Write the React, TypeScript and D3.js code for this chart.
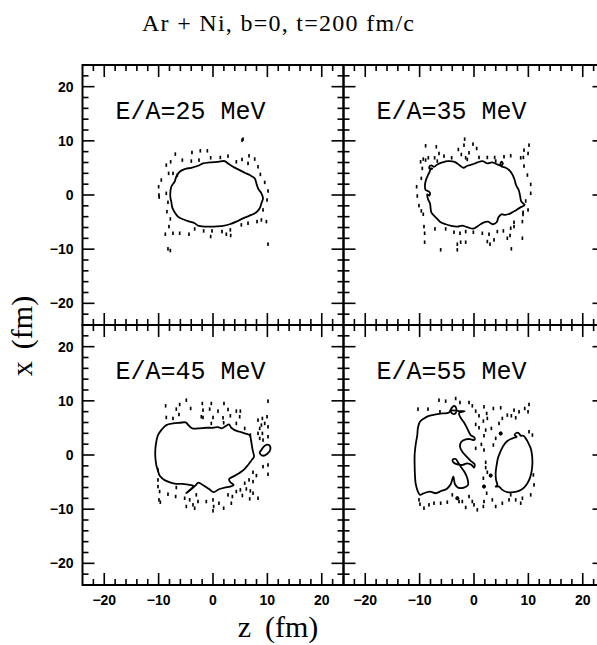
import React from "react";
import * as d3 from "d3";

// ---- data (z, x) in fm ----
const title = "Ar + Ni, b=0, t=200 fm/c";
const panelLabels = ["E/A=25 MeV", "E/A=35 MeV", "E/A=45 MeV", "E/A=55 MeV"];
const majorTicks = [-20, -10, 0, 10, 20];
const tickLabels = ["\u221220", "\u221210", "0", "10", "20"];

const contour25: [number, number][] = [
  [-7.85, -0.31], [-7.67, 1.53], [-7.06, 2.45], [-6.75, 3.37], [-6.13, 4.29], [-5.21, 4.79], [-3.99, 5.03],
  [-2.76, 5.4], [-1.84, 5.83], [-0.61, 6.01], [0.92, 6.13], [2.15, 6.26], [2.76, 5.83], [3.68, 5.21],
  [4.91, 4.6], [5.83, 4.11], [6.75, 3.68], [7.67, 3.07], [7.98, 2.15], [8.28, 1.23], [8.9, 0.31],
  [9.2, -0.61], [8.9, -1.53], [8.59, -2.45], [7.98, -3.19], [7.06, -3.68], [5.83, -4.17], [4.29, -4.91],
  [3.07, -5.4], [1.84, -5.71], [0, -5.83], [-1.53, -5.83], [-2.76, -5.64], [-3.37, -5.21], [-4.29, -4.91],
  [-5.52, -4.48], [-6.44, -3.99], [-7.06, -3.19], [-7.48, -2.33], [-7.67, -1.23],
];
const dots25: [number, number][] = [
  [5.34, 10.12], [5.52, 10.31], [-6.93, 7.55], [-3.87, 7.85], [-2.33, 8.16], [-1.04, 8.16], [-7.79, 6.13],
  [-8.59, 5.52], [-5.64, 6.44], [-3.99, 6.26], [-2.58, 6.44], [-0.43, 6.87], [1.35, 6.93], [2.76, 7.18],
  [4.29, 6.13], [5.34, 6.56], [6.63, 7.24], [7.67, 6.63], [6.44, 5.83], [8.28, 5.21], [-8.16, 3.99],
  [-7.36, 3.99], [-6.56, 3.68], [8.71, 3.8], [-9.51, 2.76], [9.51, 2.33], [-10.0, 1.53], [-8.59, 0.31],
  [-9.94, 0], [-9.9, -0.4], [10.12, 0.74], [9.94, -0.92], [-8.28, -1.35], [-8.47, -3.07], [9.2, -2.76],
  [-7.85, -4.42], [-8.1, -5.83], [8.9, -4.6], [9.82, -4.91], [8.1, -4.91], [6.44, -5.21], [5.21, -5.52],
  [-8.77, -7.24], [-7.36, -7.06], [-6.13, -7.06], [-4.42, -7.24], [-3.37, -6.26], [-1.72, -6.63],
  [-0.18, -6.63], [-0.43, -7.67], [1.66, -6.75], [2.45, -7.24], [3.19, -6.44], [3.25, -7.48],
  [-8.28, -9.94], [-7.85, -10.25], [10.12, -9.08],
];

const contour35: [number, number][] = [
  [-7.98, 4.91], [-8.1, 4.42], [-8.47, 3.68], [-8.83, 2.76], [-9.02, 1.84], [-8.9, 0.92], [-8.47, 0.74],
  [-8.1, 0.43], [-8.22, -0.12], [-8.59, 0.12], [-8.47, -0.74], [-8.1, -1.53], [-7.98, -2.45], [-7.85, -3.19],
  [-7.36, -3.8], [-6.75, -4.42], [-6.13, -5.03], [-5.21, -5.4], [-4.17, -5.71], [-3.07, -5.83], [-2.15, -5.64],
  [-1.23, -5.95], [-0.12, -6.2], [0.74, -5.71], [1.72, -5.09], [2.58, -4.91], [3.37, -5.4], [4.17, -5.03],
  [4.48, -4.17], [5.03, -3.56], [5.71, -3.68], [6.63, -3.44], [7.48, -2.94], [8.47, -2.33], [9.33, -1.84],
  [8.71, -1.23], [8.47, -0.12], [8.22, 0.92], [7.73, 1.84], [7.48, 2.76], [7.12, 3.68], [6.63, 4.42],
  [5.83, 5.03], [5.03, 5.28], [4.85, 5.7], [5.05, 6.15], [5.3, 5.8], [4.9, 5.4], [4.29, 5.64], [3.37, 6.01],
  [2.45, 5.83], [1.6, 6.26], [0.61, 6.01], [-0.31, 5.64], [-1.23, 5.4], [-1.96, 5.03], [-2.7, 5.52],
  [-3.56, 6.13], [-4.79, 6.26], [-5.83, 6.01], [-6.75, 5.64], [-7.36, 5.21], [-7.85, 5.46], [-8.22, 5.21],
  [-8.1, 4.79], [-7.67, 4.85],
];
const dots35: [number, number][] = [
  [-1.72, 10.31], [-0.18, 9.39], [-1.84, 9.2], [-2.88, 8.4], [0.49, 8.59], [-2.33, 7.48], [-0.92, 7.79],
  [-8.9, 9.08], [-6.93, 8.9], [9.2, 8.28], [10.12, 9.2], [9.94, 7.67], [8.59, 6.87], [9.08, 6.93],
  [-6.44, 7.67], [-5.52, 7.18], [-9.82, 6.13], [-9.33, 6.63], [-8.9, 6.44], [-8.4, 6.87], [-7.24, 6.87],
  [-6.75, 6.26], [-4.11, 6.87], [-1.53, 6.87], [-1.23, 6.56], [0.92, 6.93], [2.45, 6.93], [3.8, 6.93],
  [3.99, 6.26], [5.52, 7.06], [6.75, 7.24], [9.2, 5.34], [-9.51, 4.91], [-9.69, 3.07], [9.82, 3.68],
  [-10.55, 1.53], [10.43, 1.96], [-10.43, -0.18], [10.43, 0.31], [-10.12, -1.96], [-9.69, -2.94],
  [-9.33, -3.56], [9.51, -1.1], [9.94, -2.76], [9.02, -3.19], [9.02, -3.6], [8.9, -4.91], [7.36, -5.03],
  [-9.2, -5.83], [-9.08, -7.06], [-7.18, -6.26], [-5.21, -6.26], [-3.68, -6.87], [-2.58, -7.06],
  [-1.53, -6.75], [-0.12, -6.87], [1.53, -7.06], [2.76, -7.24], [4.29, -6.75], [5.4, -6.63], [6.75, -6.13],
  [7.36, -5.83], [-9.08, -8.71], [-6.13, -10.12], [-3.07, -9.08], [-2.45, -8.71], [-3.07, -10.12],
  [-1.53, -8.71], [2.45, -8.59], [2.94, -9.08], [3.68, -8.28], [6.13, -7.98], [6.63, -7.48], [8.9, -7.98],
  [6.87, -9.94],
];

const contour45: [number, number][] = [
  [-8.59, 5.52], [-7.36, 5.83], [-6.13, 5.95], [-5.03, 6.01], [-4.42, 5.4], [-3.8, 4.91], [-2.76, 4.91],
  [-1.23, 5.03], [0, 5.03], [0.92, 5.15], [1.53, 4.91], [1.96, 5.09], [2.45, 5.4], [2.94, 5.64], [3.37, 5.03],
  [3.99, 4.6], [4.91, 4.29], [5.83, 3.99], [6.75, 3.68], [6.99, 2.76], [7.18, 1.53], [7.36, 0.61],
  [7.55, -0.31], [7.12, -0.92], [6.44, -1.84], [5.64, -2.76], [4.79, -3.37], [3.68, -3.99], [2.94, -4.48],
  [3.19, -5.03], [3.8, -5.52], [3.19, -5.83], [2.15, -6.01], [1.1, -6.32], [0.12, -6.87], [-0.74, -6.26],
  [-1.72, -5.64], [-2.7, -5.09], [-3.2, -5.6], [-4.91, -7.06], [-3.6, -5.7], [-4.29, -5.52], [-5.64, -5.34],
  [-7.06, -5.28], [-8.28, -4.91], [-9.2, -4.42], [-9.82, -3.8], [-10.12, -2.94], [-10.43, -1.84],
  [-10.61, -0.31], [-10.61, 0.92], [-10.43, 2.45], [-10.12, 3.68], [-9.51, 4.6],
];
const contour45b: [number, number][] = [
  [8.9, 0.92], [9.51, 1.72], [10.31, 1.84], [10.55, 1.04], [9.94, 0.18], [9.08, -0.12], [8.59, 0.43],
];
const dots45: [number, number][] = [
  [-4.91, 10.12], [10.12, 9.94], [-8.71, 9.08], [-6.13, 9.33], [-1.96, 9.51], [-0.31, 9.51], [2.02, 9.51],
  [-6.75, 8.47], [-4.11, 8.59], [-1.84, 8.28], [-0.61, 8.47], [0.92, 8.1], [2.76, 8.4], [4.29, 8.1],
  [5.03, 8.1], [-8.59, 6.93], [-7.36, 6.75], [-6.26, 7.48], [-2.15, 7.06], [-1.84, 6.93], [0, 6.93],
  [1.84, 6.87], [3.19, 7.24], [4.91, 7.06], [8.28, 6.44], [9.08, 6.75], [9.94, 7.06], [8.9, 5.52],
  [9.51, 5.83], [8.59, 4.91], [10.12, 5.21], [-0.31, 5.83], [1.96, 5.95], [4.29, 5.83], [5.83, 4.91],
  [8.28, 3.99], [9.08, 3.99], [10.12, 3.37], [6.87, 3.68], [9.2, 2.76], [8.59, 3.07], [-10.12, -2.76],
  [-10.12, -4.6], [9.2, -2.15], [10.12, -1.84], [10.12, -3.56], [7.36, -3.19], [7.98, -3.8], [6.63, -4.6],
  [7.36, -4.91], [5.83, -5.21], [6.13, -6.26], [-10.12, -5.83], [-9.82, -6.75], [-9.94, -8.28],
  [-9.69, -8.71], [-8.28, -7.24], [-6.75, -6.01], [-6.87, -7.67], [-5.21, -7.98], [-3.07, -7.36],
  [-4.29, -8.28], [-3.68, -9.2], [-4.91, -9.51], [-2.76, -8.59], [-1.23, -8.59], [0, -8.28], [0.12, -9.51],
  [1.1, -8.9], [1.96, -9.82], [2.76, -7.36], [3.56, -7.67], [4.29, -6.75], [5.03, -6.44], [5.4, -7.48],
  [3.37, -8.9], [6.87, -6.63], [7.36, -7.06], [8.28, -7.98], [6.75, -8.1], [-3.37, -9.82], [0, -10.31],
];

const contour55a: [number, number][] = [
  [-10.31, 5.03], [-9.94, 6.13], [-9.2, 6.75], [-8.28, 7.24], [-7.06, 7.48], [-5.83, 7.67], [-4.6, 7.85],
  [-4.17, 8.59], [-3.68, 9.08], [-3.25, 8.59], [-3.37, 7.73], [-3.93, 7.61], [-4.29, 8.22], [-2.76, 8.1],
  [-1.72, 8.1], [-2.76, 7.73], [-2.45, 6.87], [-1.72, 5.83], [-1.1, 4.6], [-0.61, 3.68], [0.12, 3.19],
  [0.0, 2.76], [-0.74, 2.94], [-1.53, 2.88], [-2.33, 2.45], [-2.58, 1.53], [-2.15, 0.61], [-1.35, -0.31],
  [-0.61, -1.1], [0.12, -1.72], [0.0, -2.33], [-0.43, -1.84], [-1.23, -1.53], [-2.15, -1.84], [-3.07, -1.72],
  [-3.8, -1.35], [-3.93, -0.86], [-3.37, -0.74], [-2.94, -1.35], [-2.33, -2.33], [-1.72, -3.19],
  [-1.23, -4.29], [-1.1, -5.52], [-1.84, -6.01], [-2.94, -6.01], [-3.5, -5.4], [-3.8, -3.99], [-4.29, -5.4],
  [-5.03, -6.26], [-6.01, -6.63], [-7.06, -7.06], [-8.1, -6.75], [-9.2, -7.06], [-9.94, -7.36],
  [-10.43, -6.44], [-10.74, -5.21], [-10.86, -3.68], [-10.92, -1.84], [-10.92, 0], [-10.74, 1.84],
  [-10.43, 3.68],
];
const contour55b: [number, number][] = [
  [7.85, 3.37], [7.06, 3.07], [6.13, 2.58], [5.4, 1.72], [4.91, 0.74], [4.42, -0.49], [4.17, -1.84],
  [3.99, -3.19], [4.05, -4.6], [4.29, -5.52], [3.99, -5.83], [4.6, -5.83], [5.21, -6.44], [6.13, -6.87],
  [7.24, -6.87], [8.28, -6.63], [9.2, -6.01], [9.82, -5.21], [10.31, -4.17], [10.61, -2.94], [10.74, -1.53],
  [10.67, 0], [10.43, 1.23], [9.94, 2.33], [9.51, 3.07], [9.08, 3.56], [8.59, 3.56], [8.28, 3.99],
  [7.85, 4.11], [7.48, 3.68],
];
const dots55: [number, number][] = [
  [-6.44, 10.12], [-5.21, 9.94], [-3.37, 10.43], [-2.58, 9.69], [-0.92, 9.69], [-10.31, 8.47],
  [-8.47, 8.47], [-6.26, 7.98], [-0.31, 9.08], [0.31, 8.1], [0.92, 7.24], [1.84, 8.9], [2.33, 7.67],
  [3.56, 8.59], [4.91, 8.71], [2.45, 6.75], [1.72, 6.26], [0.31, 5.64], [0.92, 5.03], [2.15, 4.6],
  [1.84, 3.56], [3.19, 4.91], [7.36, 8.28], [8.28, 7.98], [9.33, 8.59], [10.12, 9.33], [9.94, 7.98],
  [6.87, 7.24], [7.67, 6.87], [4.91, 3.99], [3.99, 3.07], [3.56, 1.84], [1.35, 1.96], [1.84, 0.92],
  [0.31, 1.23], [2.15, -1.35], [2.15, -2.33], [2.45, -3.19], [3.07, -3.8], [1.72, -4.29], [1.84, -5.83],
  [2.33, -7.06], [4.6, 5.83], [5.21, 6.75], [6.13, 7.36], [10.12, 4.29], [10.74, 3.68], [10.92, -3.68],
  [11.04, -5.52], [8.9, -7.98], [7.67, -8.28], [10.43, -7.36], [8.59, -8.9], [5.21, -8.9], [6.44, -8.28],
  [6.75, -7.36], [3.99, -9.51], [3.37, -8.28], [-10.12, -8.28], [-9.94, -9.08], [-9.2, -9.82],
  [-8.28, -9.2], [-7.36, -8.9], [-6.13, -8.9], [-4.91, -8.71], [-3.99, -7.36], [-3.07, -7.98],
  [-2.76, -8.59], [-2.15, -8.59], [-0.92, -7.67], [-0.31, -8.59], [-1.53, -9.69], [0, -9.2],
  [0.61, -10.12], [1.72, -9.51], [1.84, -8.59],
];
const blobs55: [number, number][] = [[4.91, 3.99], [1.84, -5.83], [-3.07, -7.98], [3.07, -3.8]];

const panels = [
  { label: panelLabels[0], col: 0, row: 0, contours: [contour25], dots: dots25, blobs: [] as [number, number][] },
  { label: panelLabels[1], col: 1, row: 0, contours: [contour35], dots: dots35, blobs: [] as [number, number][] },
  { label: panelLabels[2], col: 0, row: 1, contours: [contour45, contour45b], dots: dots45, blobs: [] as [number, number][] },
  { label: panelLabels[3], col: 1, row: 1, contours: [contour55a, contour55b], dots: dots55, blobs: blobs55 },
];

// ---- layout ----
const PW = 261;
const PH = 260;
const L0 = 82.5;
const T0 = 65;
const MAJ = 12;
const MIN = 6;
const SERIF = "'Liberation Serif', 'DejaVu Serif', serif";

export default function App() {
  const zS = d3.scaleLinear().domain([-24, 24]).range([0, PW]);
  const xS = d3.scaleLinear().domain([-24, 24]).range([PH, 0]);
  const line = d3
    .line<[number, number]>()
    .x((d) => zS(d[0]))
    .y((d) => xS(d[1]))
    .curve(d3.curveCatmullRomClosed.alpha(0.5));
  const tickVals = d3.range(-22, 23, 2);

  return (
    <svg
      width={597}
      height={645}
      style={{ position: "absolute", left: 0, top: 0, background: "#fff" }}
    >
      <rect x={0} y={0} width={597} height={645} fill="#fff" />
      <text
        x={278}
        y={31}
        textAnchor="middle"
        fontFamily={SERIF}
        fontSize={24}
        textLength={272}
        lengthAdjust="spacing"
        fill="#000"
      >
        {title}
      </text>
      {panels.map((p, i) => {
        const ox = L0 + p.col * PW;
        const oy = T0 + p.row * PH;
        return (
          <g key={i} transform={`translate(${ox},${oy})`}>
            <rect x={0} y={0} width={PW} height={PH} fill="none" stroke="#000" strokeWidth={2} />
            {tickVals.map((v) => {
              const len = v % 10 === 0 ? MAJ : MIN;
              const px = zS(v);
              const py = xS(v);
              return (
                <g key={v} stroke="#000" strokeWidth={1.6}>
                  <line x1={px} x2={px} y1={0} y2={len} />
                  <line x1={px} x2={px} y1={PH} y2={PH - len} />
                  <line x1={0} x2={len} y1={py} y2={py} />
                  <line x1={PW} x2={PW - len} y1={py} y2={py} />
                </g>
              );
            })}
            {p.col === 0 &&
              majorTicks.map((v, j) => (
                <text
                  key={"yl" + v}
                  x={-9}
                  y={xS(v) + 5}
                  textAnchor="end"
                  fontFamily="'Liberation Sans', Arial, sans-serif"
                  fontWeight="bold"
                  fontSize={14}
                  fill="#000"
                >
                  {tickLabels[j]}
                </text>
              ))}
            {p.row === 1 &&
              majorTicks.map((v, j) => (
                <text
                  key={"xl" + v}
                  x={zS(v)}
                  y={PH + 20}
                  textAnchor="middle"
                  fontFamily="'Liberation Sans', Arial, sans-serif"
                  fontWeight="bold"
                  fontSize={14}
                  fill="#000"
                >
                  {tickLabels[j]}
                </text>
              ))}
            <text
              x={33}
              y={54}
              fontFamily="'Liberation Mono', 'DejaVu Sans Mono', monospace"
              fontSize={25}
              fill="#000"
            >
              {p.label}
            </text>
            {p.contours.map((c, k) => (
              <path key={k} d={line(c) || ""} fill="none" stroke="#000" strokeWidth={1.8} strokeLinejoin="round" />
            ))}
            {p.dots.map((d, k) => (
              <rect key={k} x={zS(d[0]) - 0.85} y={xS(d[1]) - 1.75} width={1.7} height={3.5} fill="#000" />
            ))}
            {p.blobs.map((d, k) => (
              <circle key={k} cx={zS(d[0])} cy={xS(d[1])} r={2} fill="#000" />
            ))}
          </g>
        );
      })}
      <text x={278} y={637} textAnchor="middle" fontFamily={SERIF} fontSize={30} fill="#000">
        <tspan>z</tspan>
        <tspan dx={14}>(fm)</tspan>
      </text>
      <text
        transform="translate(32,336) rotate(-90)"
        textAnchor="middle"
        fontFamily={SERIF}
        fontSize={30}
        fill="#000"
      >
        <tspan>x</tspan>
        <tspan dx={12}>(fm)</tspan>
      </text>
    </svg>
  );
}
